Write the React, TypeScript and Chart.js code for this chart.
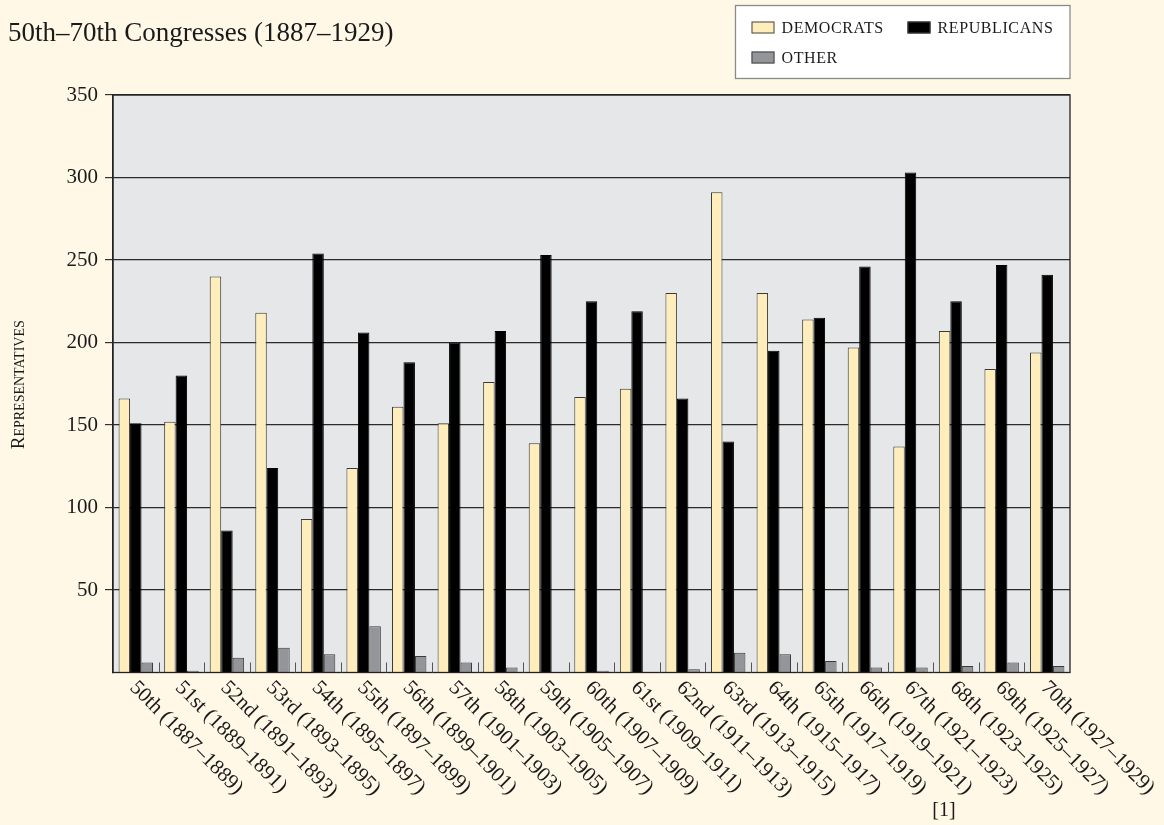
import React, { useEffect, useRef } from "react";
import { Chart, registerables } from "chart.js";

Chart.register(...registerables);

// ---- data ----
const categories = [
  "50th (1887–1889)",
  "51st (1889–1891)",
  "52nd (1891–1893)",
  "53rd (1893–1895)",
  "54th (1895–1897)",
  "55th (1897–1899)",
  "56th (1899–1901)",
  "57th (1901–1903)",
  "58th (1903–1905)",
  "59th (1905–1907)",
  "60th (1907–1909)",
  "61st (1909–1911)",
  "62nd (1911–1913)",
  "63rd (1913–1915)",
  "64th (1915–1917)",
  "65th (1917–1919)",
  "66th (1919–1921)",
  "67th (1921–1923)",
  "68th (1923–1925)",
  "69th (1925–1927)",
  "70th (1927–1929)",
];
const democrats = [166, 152, 240, 218, 93, 124, 161, 151, 176, 139, 167, 172, 230, 291, 230, 214, 197, 137, 207, 184, 194];
const republicans = [151, 180, 86, 124, 254, 206, 188, 200, 207, 253, 225, 219, 166, 140, 195, 215, 246, 303, 225, 247, 241];
const other = [6, 1, 9, 15, 11, 28, 10, 6, 3, 0, 1, 0, 2, 12, 11, 7, 3, 3, 4, 6, 4];
const seriesLabels = ["Democrats", "Republicans", "Other"];
const yMin = 0;
const yMax = 350;
const yStep = 50;
const subtitle = "50th–70th Congresses (1887–1929)";
const yTitle = "Representatives";
const footnote = "[1]";

// ---- styles ----
const FONT = "'Liberation Serif', 'Times New Roman', serif";
const PAGE_BG = "#FFF8E7";
const PLOT_BG = "#E6E7E8";
const DEM_COLOR = "#FFEDBC";
const REP_COLOR = "#000000";
const OTH_COLOR = "#939598";
const TEXT = "#1a1a1a";

const decorPlugin = {
  id: "decor",
  beforeDraw(chart: any) {
    const { ctx, chartArea: a, width, height } = chart;
    ctx.save();
    ctx.fillStyle = PAGE_BG;
    ctx.fillRect(0, 0, width, height);
    ctx.fillStyle = PLOT_BG;
    ctx.fillRect(a.left, a.top, a.right - a.left, a.bottom - a.top);
    ctx.restore();
  },
  afterDraw(chart: any) {
    const { ctx, chartArea: a } = chart;
    const xs = chart.scales.x;
    ctx.save();

    // plot frame
    ctx.strokeStyle = "#222";
    ctx.lineWidth = 1.3;
    ctx.strokeRect(a.left, a.top, a.right - a.left, a.bottom - a.top);

    // small category boundary ticks inside plot
    ctx.strokeStyle = "#555";
    ctx.lineWidth = 1;
    for (let i = 0; i < categories.length - 1; i++) {
      const bx = Math.round((xs.getPixelForValue(i) + xs.getPixelForValue(i + 1)) / 2) + 0.5;
      ctx.beginPath();
      ctx.moveTo(bx, a.bottom);
      ctx.lineTo(bx, a.bottom - 10);
      ctx.stroke();
    }

    // rotated x labels (clockwise)
    ctx.fillStyle = TEXT;
    ctx.font = `21px ${FONT}`;
    ctx.textAlign = "left";
    ctx.textBaseline = "middle";
    categories.forEach((c, i) => {
      const px = xs.getPixelForValue(i) - 3;
      ctx.save();
      ctx.translate(px, a.bottom + 12);
      ctx.rotate(Math.PI / 4);
      ctx.fillText(c, 0, 0);
      ctx.restore();
    });

    // y axis title in small caps
    const cy = (a.top + a.bottom) / 2 + 1;
    ctx.save();
    ctx.translate(24, cy);
    ctx.rotate(-Math.PI / 2);
    ctx.textBaseline = "alphabetic";
    ctx.textAlign = "left";
    const first = yTitle.slice(0, 1);
    const rest = yTitle.slice(1).toUpperCase();
    ctx.font = `19px ${FONT}`;
    const w1 = ctx.measureText(first).width;
    ctx.font = `14px ${FONT}`;
    const w2 = ctx.measureText(rest).width;
    const start = -(w1 + w2) / 2;
    ctx.font = `19px ${FONT}`;
    ctx.fillText(first, start, 0);
    ctx.font = `14px ${FONT}`;
    ctx.fillText(rest, start + w1, 0);
    ctx.restore();

    // subtitle
    ctx.font = `27px ${FONT}`;
    ctx.textAlign = "left";
    ctx.textBaseline = "alphabetic";
    ctx.fillStyle = TEXT;
    ctx.fillText(subtitle, 8, 41);

    // legend box
    const boxR = a.right;
    const boxL = boxR - 334.5;
    const boxT = 5.5;
    const boxH = 73;
    ctx.fillStyle = "#ffffff";
    ctx.fillRect(boxL, boxT, boxR - boxL, boxH);
    ctx.strokeStyle = "#8a8a8a";
    ctx.lineWidth = 1.3;
    ctx.strokeRect(boxL, boxT, boxR - boxL, boxH);
    const slots = [
      { x: boxL + 16, y: boxT + 22 },
      { x: boxL + 172, y: boxT + 22 },
      { x: boxL + 16, y: boxT + 52 },
    ];
    chart.data.datasets.forEach((ds: any, i: number) => {
      const s = slots[i];
      ctx.fillStyle = ds.backgroundColor;
      ctx.fillRect(s.x, s.y - 6, 23, 12);
      ctx.strokeStyle = "#444";
      ctx.lineWidth = 1;
      ctx.strokeRect(s.x + 0.5, s.y - 5.5, 22, 11);
      ctx.fillStyle = TEXT;
      ctx.font = `16px ${FONT}`;
      ctx.textBaseline = "middle";
      (ctx as any).letterSpacing = "0.6px";
      ctx.fillText(String(ds.label).toUpperCase(), s.x + 30, s.y + 1);
      (ctx as any).letterSpacing = "0px";
    });

    // footnote
    ctx.fillStyle = TEXT;
    ctx.font = `20px ${FONT}`;
    ctx.textAlign = "center";
    ctx.textBaseline = "middle";
    ctx.fillText(footnote, 944, 811);

    ctx.restore();
  },
};

export default function App() {
  const ref = useRef<HTMLCanvasElement | null>(null);

  useEffect(() => {
    document.body.style.margin = "0";
    document.body.style.background = PAGE_BG;
    if (!ref.current) return;
    const chart = new Chart(ref.current, {
      type: "bar",
      data: {
        labels: categories,
        datasets: [
          {
            label: seriesLabels[0],
            data: democrats,
            backgroundColor: DEM_COLOR,
            borderColor: "#3a3a3a",
            borderWidth: 1,
          },
          {
            label: seriesLabels[1],
            data: republicans,
            backgroundColor: REP_COLOR,
            borderColor: "#000",
            borderWidth: 1,
          },
          {
            label: seriesLabels[2],
            data: other,
            backgroundColor: OTH_COLOR,
            borderColor: "#3a3a3a",
            borderWidth: 1,
          },
        ],
      },
      options: {
        animation: false,
        responsive: false,
        maintainAspectRatio: false,
        devicePixelRatio: 1,
        datasets: {
          bar: {
            categoryPercentage: 0.755,
            barPercentage: 1,
          },
        },
        layout: { padding: { top: 95, right: 94, bottom: 0, left: 0 } },
        plugins: {
          legend: { display: false },
          title: { display: false },
          tooltip: { enabled: false },
        },
        scales: {
          x: {
            type: "category",
            grid: { display: false },
            border: { display: false },
            ticks: { display: false },
            afterFit: (scale: any) => {
              scale.height = 152.5;
            },
          },
          y: {
            min: yMin,
            max: yMax,
            border: { display: true, color: "#222", width: 1.3 },
            grid: {
              color: (c: any) => (c.tick && c.tick.value === 0 ? "rgba(0,0,0,0)" : "#2b2b2b"),
              lineWidth: 1.2,
              tickLength: 8,
              tickColor: (c: any) => (c.tick && c.tick.value === 0 ? "rgba(0,0,0,0)" : "#333"),
            },
            ticks: {
              stepSize: yStep,
              padding: 7,
              color: TEXT,
              font: { family: FONT, size: 21 },
              callback: (v: any) => (v === 0 ? "" : String(v)),
            },
            afterFit: (scale: any) => {
              scale.width = 113;
            },
          },
        },
      },
      plugins: [decorPlugin],
    });
    return () => chart.destroy();
  }, []);

  return (
    <div style={{ width: 1164, height: 825, background: PAGE_BG }}>
      <canvas ref={ref} width={1164} height={825} style={{ display: "block", width: 1164, height: 825 }} />
    </div>
  );
}
